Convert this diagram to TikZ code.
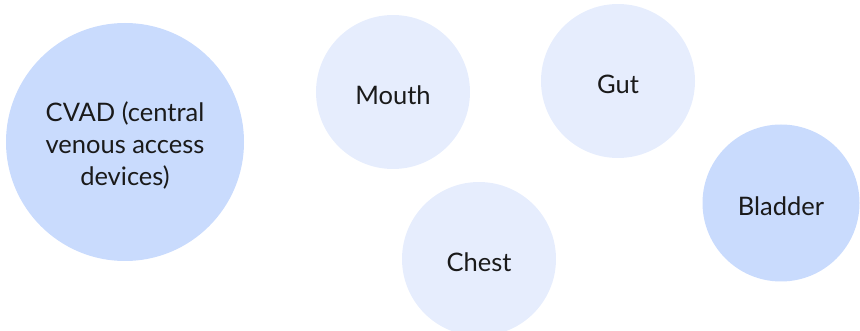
\documentclass[tikz,border=0pt]{standalone}
\usepackage{fontspec}
\setmainfont{Lato}
\definecolor{cdark}{HTML}{C9DBFD}
\definecolor{clight}{HTML}{E6EDFD}
\definecolor{ctext}{HTML}{1A1A1A}
\begin{document}
\begin{tikzpicture}[x=1pt,y=-1pt,
  blob/.style={circle, inner sep=0pt},
  lbl/.style={text=ctext, align=center, inner sep=0pt, yshift=-3pt,
    font=\fontsize{25.5}{32}\selectfont}]
\useasboundingbox (0,0) rectangle (860,331);
\clip (0,0) rectangle (860,331);
\node[blob, fill=cdark, minimum size=238pt,
  label={[lbl]center:CVAD (central\\venous access\\devices)}] (cvad) at (125,142) {};
\node[blob, fill=clight, minimum size=154pt, label={[lbl]center:Mouth}] (mouth) at (393,92) {};
\node[blob, fill=clight, minimum size=154pt, label={[lbl]center:Gut}] (gut) at (618,81) {};
\node[blob, fill=clight, minimum size=154pt, label={[lbl]center:Chest}] (chest) at (479,259) {};
\node[blob, fill=cdark, minimum size=157pt, label={[lbl]center:Bladder}] (bladder) at (781,203) {};
\end{tikzpicture}
\end{document}
